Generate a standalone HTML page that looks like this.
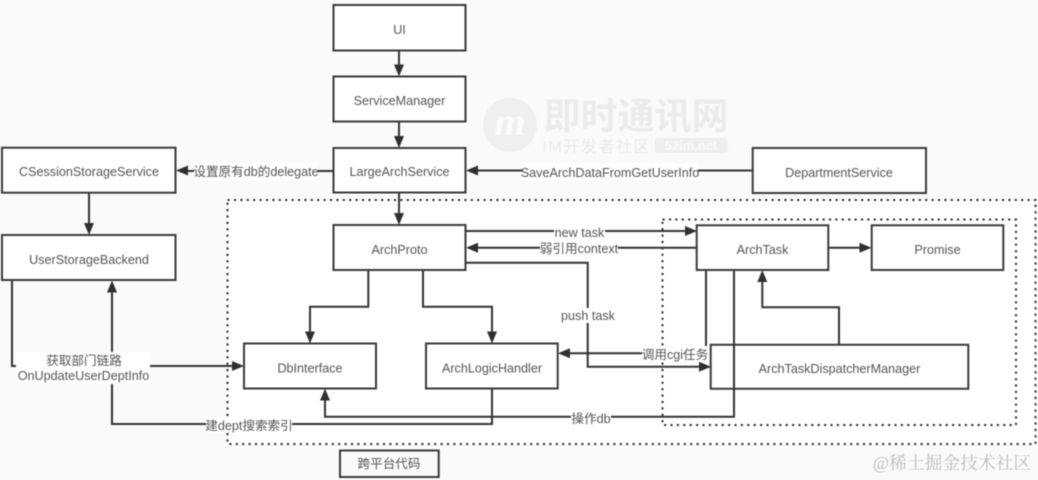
<!DOCTYPE html>
<html><head><meta charset="utf-8"><style>
html,body{margin:0;padding:0;background:#fafafa}
svg{display:block;filter:blur(.5px)}
text{font-family:"Liberation Sans","Noto Sans CJK SC",sans-serif;font-size:12.6px;fill:#555;text-anchor:middle}
.b{fill:#fff;stroke:#3a3a3a;stroke-width:2}
.l{fill:none;stroke:#333;stroke-width:2}
.d{stroke:#333;stroke-width:2;stroke-dasharray:2.2 4.2}
.a{fill:#2f2f2f;stroke:none}
.w{fill:#fff;stroke:none}
</style></head><body>
<svg width="1038" height="480" viewBox="0 0 1038 480" xmlns="http://www.w3.org/2000/svg">
<rect width="1038" height="480" fill="#fafafa"/>
<!-- watermark -->
<g>
<circle cx="510" cy="125" r="27" fill="#efefef"/>
<text x="510" y="135" style="font-family:'Liberation Serif',serif;font-size:40px;font-style:italic;font-weight:bold;fill:#fbfbfb">m</text>
<text x="636" y="129" style="font-size:37px;font-weight:bold;fill:#ebebeb;font-family:'Liberation Sans','Noto Sans CJK SC',sans-serif">即时通讯网</text>
<text x="596" y="152" textLength="107" style="font-size:16px;fill:#eaeaea">IM开发者社区</text>
<rect x="655" y="138" width="73" height="15" rx="3" fill="#eeeeee"/>
<text x="691" y="150" style="font-size:13px;font-weight:bold;fill:#f9f9f9">52im.net</text>
</g>
<!-- dashed regions -->
<rect x="227.500" y="200" width="808" height="244" fill="#fff" class="d"/>
<rect x="662.500" y="219.500" width="353.500" height="205.500" fill="none" class="d"/>
<!-- connectors -->
<path class="l" d="M399 50V68M399 121V140M399 192V217"/>
<path class="a" d="M394 64.500h10L399 76.500zM394 136h10L399 148zM394 213h10L399 225z"/>
<path class="l" d="M333 171H186"/>
<path class="a" d="M176 170.500l12-5v10z"/>
<path class="l" d="M752 170.500H476"/>
<path class="a" d="M466 170.500l12-5v10z"/>
<path class="l" d="M89 193V226"/>
<path class="a" d="M84 223h10L89 235z"/>
<path class="l" d="M12 280V366H234"/>
<path class="a" d="M244 366l-12-5v10z"/>
<path class="l" d="M492 388V424H112V290"/>
<path class="a" d="M112 280.500l-5 12h10z"/>
<path class="l" d="M734 270V416.700H325V398"/>
<path class="a" d="M325 388.500l-5 12h10z"/>
<path class="l" d="M706 270V353.300H568"/>
<path class="a" d="M558 353.300l12-5v10z"/>
<path class="l" d="M466 231H687"/>
<path class="a" d="M697 231l-12-5v10z"/>
<path class="l" d="M696 247.700H476"/>
<path class="a" d="M466 247.700l12-5v10z"/>
<path class="l" d="M466 262.700H587.700V366.700H700"/>
<path class="a" d="M711 366.700l-12-5v10z"/>
<path class="l" d="M368.300 270V306.700H310V334"/>
<path class="a" d="M305 331.500h10L310 343.500z"/>
<path class="l" d="M423 270V306.700H492V334"/>
<path class="a" d="M487 331.500h10L492 343.500z"/>
<path class="l" d="M828 247.700H861"/>
<path class="a" d="M871.500 247.700l-12-5v10z"/>
<path class="l" d="M839 345V307.300H762.300V280"/>
<path class="a" d="M762.300 270l-5 12h10z"/>
<!-- boxes -->
<rect class="b" x="333.500" y="5" width="132" height="45.500"/>
<rect class="b" x="333.500" y="76.500" width="132" height="45"/>
<rect class="b" x="333.500" y="148" width="132" height="44.500"/>
<rect class="b" x="2" y="147.700" width="173.500" height="45"/>
<rect class="b" x="2" y="235" width="173.500" height="45"/>
<rect class="b" x="752.700" y="148" width="173.300" height="45"/>
<rect class="b" x="333.500" y="225" width="132" height="45"/>
<rect class="b" x="244" y="343.500" width="132" height="45"/>
<rect class="b" x="426" y="343.500" width="131.700" height="45"/>
<rect class="b" x="696.700" y="225.300" width="131.600" height="44.700"/>
<rect class="b" x="871.700" y="225.300" width="131.600" height="44.700"/>
<path class="l" style="stroke:#3a3a3a" d="M710.700 344.700H968.300V388.700H710.700Z" fill="#fff"/>
<path class="l" d="M734 344V389"/>
<rect x="340" y="450.500" width="98.700" height="26.500" fill="#fafafa" stroke="#3a3a3a" stroke-width="2"/>
<!-- box labels -->
<text x="399.500" y="34">UI</text>
<text x="399.500" y="105">ServiceManager</text>
<text x="399.500" y="176">LargeArchService</text>
<text x="89" y="176">CSessionStorageService</text>
<text x="89" y="264">UserStorageBackend</text>
<text x="839" y="177">DepartmentService</text>
<text x="399.500" y="254">ArchProto</text>
<text x="310" y="372.500">DbInterface</text>
<text x="492" y="372.500">ArchLogicHandler</text>
<text x="762.500" y="254">ArchTask</text>
<text x="937.500" y="254">Promise</text>
<text x="839.500" y="373">ArchTaskDispatcherManager</text>
<text x="389" y="468">跨平台代码</text>
<!-- edge labels -->
<rect class="w" x="194" y="163" width="124" height="17"/>
<text x="256" y="176">设置原有db的delegate</text>
<rect class="w" x="522" y="163" width="176" height="17"/>
<text x="610" y="177">SaveArchDataFromGetUserInfo</text>
<rect class="w" x="16" y="352" width="134" height="32"/>
<text x="84" y="365">获取部门链路</text>
<text x="83.500" y="380">OnUpdateUserDeptInfo</text>
<rect class="w" x="206" y="417" width="86" height="16"/>
<text x="249" y="430">建dept搜索索引</text>
<rect class="w" x="554" y="224" width="51" height="14"/>
<text x="579.500" y="237">new task</text>
<rect class="w" x="540" y="240" width="78" height="16"/>
<text x="579" y="253">弱引用context</text>
<rect class="w" x="561" y="308" width="54" height="15"/>
<text x="588" y="320">push task</text>
<rect class="w" x="642" y="346" width="65" height="16"/>
<text x="675" y="359">调用cgi任务</text>
<rect class="w" x="571" y="410" width="40" height="15"/>
<text x="591" y="423">操作db</text>
<text x="952" y="469" style="font-family:'Liberation Serif','Noto Serif CJK SC',serif;font-size:17.800px;fill:#bdbdbd">@稀土掘金技术社区</text>
</svg>
</body></html>
